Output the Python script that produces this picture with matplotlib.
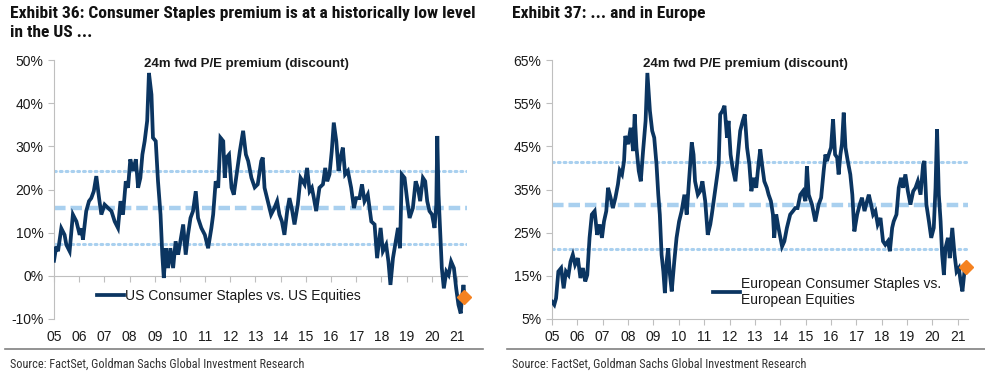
import numpy as np
import matplotlib
matplotlib.use("Agg")
import matplotlib.pyplot as plt
from matplotlib import font_manager
from matplotlib.lines import Line2D
from matplotlib.ticker import FuncFormatter

# US Consumer Staples vs. US Equities, 24m fwd P/E premium (%)
us_years = [2005.00, 2005.09, 2005.16, 2005.29, 2005.42, 2005.49, 2005.62, 2005.75, 2005.89,
            2006.02, 2006.09, 2006.15, 2006.28, 2006.39, 2006.48, 2006.58, 2006.68, 2006.79, 2006.88,
            2007.01, 2007.15, 2007.28, 2007.41, 2007.54, 2007.64, 2007.74, 2007.85, 2007.94,
            2008.03, 2008.14, 2008.25, 2008.34, 2008.43, 2008.51, 2008.60, 2008.70, 2008.77, 2008.87, 2008.93,
            2009.04, 2009.13, 2009.23, 2009.30, 2009.36, 2009.44, 2009.53, 2009.62, 2009.73, 2009.83, 2009.93,
            2010.02, 2010.13, 2010.23, 2010.32, 2010.42, 2010.52, 2010.63, 2010.72, 2010.85, 2010.99,
            2011.12, 2011.25, 2011.32, 2011.42, 2011.52, 2011.61, 2011.72, 2011.78, 2011.85, 2011.95,
            2012.05, 2012.14, 2012.25, 2012.38, 2012.51, 2012.62, 2012.71, 2012.84, 2012.97,
            2013.09, 2013.23, 2013.29, 2013.36, 2013.49, 2013.62, 2013.75, 2013.86, 2013.95,
            2014.05, 2014.15, 2014.26, 2014.35, 2014.44, 2014.55, 2014.68, 2014.79, 2014.88, 2014.95,
            2015.05, 2015.15, 2015.24, 2015.32, 2015.41, 2015.54, 2015.68, 2015.77, 2015.85, 2015.94,
            2016.03, 2016.11, 2016.21, 2016.30, 2016.38, 2016.47, 2016.56, 2016.67, 2016.80, 2016.91,
            2017.00, 2017.13, 2017.23, 2017.33, 2017.46, 2017.60, 2017.73, 2017.83, 2017.97,
            2018.06, 2018.19, 2018.28, 2018.36, 2018.46, 2018.55, 2018.66, 2018.74, 2018.81, 2018.92,
            2019.03, 2019.12, 2019.25, 2019.36, 2019.45, 2019.54, 2019.65, 2019.74, 2019.82, 2019.91,
            2020.01, 2020.11, 2020.18, 2020.22, 2020.27, 2020.35, 2020.40, 2020.48, 2020.58, 2020.67,
            2020.77, 2020.88, 2020.97, 2021.06, 2021.15, 2021.20, 2021.26, 2021.30]
us_prem = [3.5, 6.8, 5.7, 11.0, 9.5, 7.2, 5.7, 14.2, 12.6,
           9.5, 11.0, 8.4, 15.0, 17.3, 18.0, 19.6, 23.1, 18.0, 14.2,
           16.5, 15.7, 15.0, 12.6, 11.1, 17.3, 14.2, 21.9, 20.4,
           27.0, 24.3, 27.0, 20.4, 22.7, 28.1, 31.2, 35.9, 47.0, 42.0, 32.0,
           31.2, 21.9, 14.2, 4.9, -0.5, 6.4, 1.8, 6.4, 1.8, 8.0, 4.9,
           8.0, 11.9, 4.9, 9.5, 13.4, 15.0, 19.6, 13.4, 11.1, 9.5,
           6.4, 11.1, 14.2, 21.9, 20.4, 32.0, 31.2, 22.7, 27.4, 28.1,
           20.4, 18.8, 23.5, 28.9, 33.6, 28.1, 26.6, 22.7, 20.5,
           21.2, 26.6, 27.4, 20.4, 17.3, 14.2, 15.7, 17.3, 14.2,
           12.6, 9.5, 15.0, 18.0, 15.7, 11.9, 16.5, 22.7, 21.9, 21.2,
           25.0, 19.6, 20.4, 18.0, 15.0, 20.4, 21.2, 25.0, 21.9, 23.5,
           28.9, 35.5, 31.2, 24.3, 27.4, 29.7, 23.5, 24.3, 20.4, 15.7,
           18.0, 18.0, 21.2, 17.3, 18.8, 12.6, 11.9, 4.1, 11.1,
           5.7, 7.2, 3.3, -2.1, 4.1, 7.2, 11.1, 6.4, 23.5, 22.7,
           17.3, 13.4, 15.7, 21.9, 20.4, 17.3, 22.7, 21.9, 17.3, 15.0,
           14.2, 11.1, 16.5, 32.4, 18.8, 8.0, 1.8, -2.9, 1.0, 0.2,
           3.3, 1.8, -2.9, -6.7, -8.7, -5.2, -2.1, -4.8]
us_mean = 15.8
us_upper = 24.4
us_lower = 7.3

# European Consumer Staples vs. European Equities, 24m fwd P/E premium (%)
eu_years = [2005.00, 2005.09, 2005.16, 2005.25, 2005.36, 2005.46, 2005.55, 2005.65, 2005.73, 2005.82, 2005.91,
            2006.02, 2006.12, 2006.22, 2006.31, 2006.39, 2006.48, 2006.57, 2006.68, 2006.78, 2006.88, 2006.97,
            2007.05, 2007.14, 2007.21, 2007.31, 2007.40, 2007.50, 2007.60, 2007.67, 2007.76, 2007.84, 2007.89,
            2008.00, 2008.10, 2008.20, 2008.26, 2008.33, 2008.42, 2008.50, 2008.59, 2008.69, 2008.76, 2008.86, 2008.95,
            2009.03, 2009.12, 2009.19, 2009.25, 2009.32, 2009.39, 2009.45, 2009.52, 2009.58, 2009.65, 2009.72, 2009.82, 2009.91,
            2010.01, 2010.11, 2010.22, 2010.31, 2010.40, 2010.51, 2010.58, 2010.64, 2010.75, 2010.84, 2010.93,
            2011.04, 2011.14, 2011.24, 2011.30, 2011.41, 2011.50, 2011.57, 2011.63, 2011.72, 2011.80, 2011.90, 2011.96,
            2012.04, 2012.12, 2012.23, 2012.33, 2012.42, 2012.52, 2012.60, 2012.69, 2012.78, 2012.86, 2012.95,
            2013.05, 2013.14, 2013.21, 2013.28, 2013.37, 2013.47, 2013.54, 2013.63, 2013.71, 2013.76, 2013.84, 2013.93,
            2014.07, 2014.16, 2014.26, 2014.39, 2014.50, 2014.59, 2014.68, 2014.79, 2014.89, 2014.99,
            2015.05, 2015.12, 2015.25, 2015.38, 2015.51, 2015.61, 2015.71, 2015.78, 2015.84, 2015.91,
            2016.00, 2016.08, 2016.16, 2016.24, 2016.30, 2016.37, 2016.43, 2016.50, 2016.57, 2016.66, 2016.76, 2016.84, 2016.92,
            2017.03, 2017.13, 2017.22, 2017.32, 2017.42, 2017.49, 2017.58, 2017.66, 2017.75, 2017.84, 2017.95,
            2018.05, 2018.14, 2018.24, 2018.32, 2018.41, 2018.47, 2018.58, 2018.67, 2018.76, 2018.84, 2018.93,
            2019.03, 2019.13, 2019.24, 2019.33, 2019.42, 2019.53, 2019.63, 2019.68, 2019.76, 2019.86, 2019.95,
            2020.05, 2020.12, 2020.18, 2020.25, 2020.32, 2020.38, 2020.45, 2020.51, 2020.61, 2020.68, 2020.78, 2020.87, 2020.95,
            2021.04, 2021.11, 2021.18, 2021.26, 2021.32]
eu_prem = [9.0, 8.3, 9.8, 16.0, 16.8, 12.1, 16.0, 15.2, 18.3, 19.9, 17.6,
           19.1, 14.5, 16.8, 13.7, 15.2, 23.8, 29.2, 30.0, 24.5, 26.9, 23.8,
           27.6, 30.0, 35.4, 33.1, 30.7, 33.1, 36.2, 39.4, 38.5, 41.6, 47.4,
           45.5, 49.3, 43.9, 52.4, 44.7, 39.3, 36.9, 43.9, 50.9, 62.0, 53.2, 48.6,
           47.0, 40.8, 33.8, 29.2, 19.9, 16.0, 11.0, 18.3, 21.4, 15.2, 11.4, 18.3, 23.8,
           27.6, 30.0, 33.8, 29.2, 36.9, 45.9, 43.1, 36.9, 33.8, 34.6, 36.9,
           32.3, 24.5, 26.9, 29.2, 33.8, 37.7, 40.8, 52.4, 53.2, 54.4, 47.0, 50.9,
           43.1, 40.0, 36.9, 43.1, 48.6, 50.9, 52.4, 44.7, 40.8, 34.6, 37.7,
           35.4, 40.8, 44.3, 40.8, 36.9, 35.4, 33.8, 32.3, 29.2, 23.8, 29.2, 26.1,
           21.8, 23.0, 26.1, 29.2, 30.0, 30.7, 30.7, 33.8, 34.6, 32.3,
           40.4, 33.8, 31.5, 27.6, 31.5, 33.1, 39.3, 43.1, 41.6, 43.1,
           44.7, 51.3, 43.1, 42.4, 38.5, 43.1, 45.5, 52.8, 44.7, 41.6, 38.5, 33.8, 25.3,
           29.2, 31.5, 33.1, 30.0, 32.3, 33.8, 31.5, 29.2, 30.0, 26.9, 28.4,
           23.0, 22.2, 23.0, 20.7, 26.1, 27.6, 29.2, 35.4, 37.7, 35.4, 38.5,
           34.6, 31.5, 34.6, 35.4, 36.9, 33.8, 40.8, 41.6, 31.5, 27.6, 23.8,
           26.1, 35.4, 49.0, 33.8, 27.6, 19.9, 15.2, 21.4, 23.8, 19.1, 26.1, 19.9, 16.0,
           16.8, 13.7, 11.4, 16.0, 17.0]
eu_mean = 31.3
eu_upper = 41.3
eu_lower = 21.2

year_ticks = list(range(2005, 2022))
year_labels = ["%02d" % (y % 100) for y in year_ticks]

navy = "#0b3561"
light_blue = "#a9d0ef"
orange = "#f58220"
axis_grey = "#bfbfbf"
text_col = "#1a1a1a"

# narrow font for the exhibit titles if one is installed, else shrink regular sans
installed = {f.name for f in font_manager.fontManager.ttflist}
narrow = None
for cand in ["Liberation Sans Narrow", "Arial Narrow", "Roboto Condensed", "Open Sans Condensed"]:
    if cand in installed:
        narrow = cand
        break
if narrow:
    title_font, title_size, src_size = [narrow, "DejaVu Sans"], 12.6, 8.8
else:
    title_font, title_size, src_size = ["Liberation Sans", "DejaVu Sans"], 9.2, 7.4

plt.rcParams["font.family"] = ["Liberation Sans", "DejaVu Sans"]

fig = plt.figure(figsize=(9.85, 3.8), dpi=100)

panels = [
    dict(rect=[54 / 985, 1 - 319 / 380, 413 / 985, 259 / 380],
         x=us_years, y=us_prem, mean=us_mean, up=us_upper, lo=us_lower,
         ylim=(-10, 50), yticks=range(-10, 51, 10), base=0,
         label="US Consumer Staples vs. US Equities", leg=(0.105, 0.089),
         title="Exhibit 36: Consumer Staples premium is at a historically low level\nin the US ...",
         tx=10 / 985),
    dict(rect=[552 / 985, 1 - 319 / 380, 416 / 985, 259 / 380],
         x=eu_years, y=eu_prem, mean=eu_mean, up=eu_upper, lo=eu_lower,
         ylim=(5, 65), yticks=range(5, 66, 10), base=5,
         label="European Consumer Staples vs.\nEuropean Equities", leg=(0.388, 0.105),
         title="Exhibit 37: ... and in Europe",
         tx=512 / 985),
]

for p in panels:
    ax = fig.add_axes(p["rect"])
    ax.axhline(p["up"], color=light_blue, lw=2.2, ls=(0, (0.6, 1.3)), dash_capstyle="round", zorder=1)
    ax.axhline(p["lo"], color=light_blue, lw=2.2, ls=(0, (0.6, 1.3)), dash_capstyle="round", zorder=1)
    ax.axhline(p["mean"], color=light_blue, lw=3.2, ls=(0, (2.6, 1.1)), zorder=1)
    ax.plot(p["x"], p["y"], color=navy, lw=2.7, solid_joinstyle="miter", zorder=3,
            label=p["label"])
    ax.plot(p["x"][-1], p["y"][-1], marker="D", color=orange, ms=7, zorder=4, ls="none",
            clip_on=False)

    ax.set_xlim(2005, 2021.4)
    ax.set_ylim(*p["ylim"])
    ax.set_yticks(list(p["yticks"]))
    ax.yaxis.set_major_formatter(FuncFormatter(lambda v, pos: "%d%%" % v))
    ax.set_xticks(year_ticks)
    ax.set_xticklabels([])
    for s in ["top", "right"]:
        ax.spines[s].set_visible(False)
    ax.spines["left"].set_color(axis_grey)
    ax.spines["bottom"].set_color(axis_grey)
    ax.spines["bottom"].set_position(("data", p["base"]))
    ax.tick_params(axis="both", colors=axis_grey, length=4, width=0.8, labelcolor=text_col,
                   labelsize=10)

    sec = ax.secondary_xaxis(0)
    sec.set_xticks(year_ticks)
    sec.set_xticklabels(year_labels)
    sec.tick_params(length=0, labelsize=10, labelcolor=text_col, pad=8)
    sec.spines["bottom"].set_visible(False)

    ax.text(0.466, 0.985, "24m fwd P/E premium (discount)", transform=ax.transAxes,
            ha="center", va="center", fontsize=9.5, fontweight="bold", color=text_col)
    ax.legend(loc="center left", bbox_to_anchor=p["leg"], frameon=False, fontsize=10,
              handlelength=1.95, handletextpad=0.05, borderpad=0, borderaxespad=0,
              labelcolor=text_col)

    fig.text(p["tx"], 1 - 6 / 380, p["title"], ha="left", va="top", fontsize=title_size,
             fontweight="bold", family=title_font, color="#111111", linespacing=1.35)
    x0 = p["tx"] - 5 / 985
    fig.add_artist(Line2D([x0, x0 + 478 / 985], [1 - 349 / 380] * 2, color="#808080", lw=1.2))
    fig.text(p["tx"], 1 - 364 / 380, "Source: FactSet, Goldman Sachs Global Investment Research",
             ha="left", va="center", fontsize=src_size, family=title_font, color="#333333")

fig.savefig("out.png", dpi=100)
